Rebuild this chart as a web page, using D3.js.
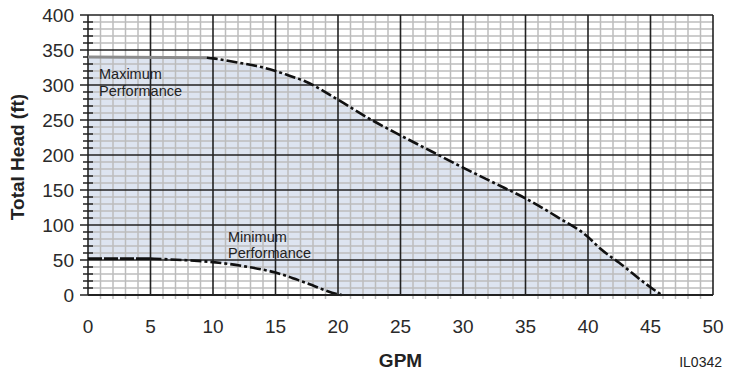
<!DOCTYPE html>
<html>
<head>
<meta charset="utf-8">
<script src="https://cdn.jsdelivr.net/npm/d3@7"></script>
<style>
  body { margin: 0; background: #fff; }
  svg { display: block; font-family: "Liberation Sans", Arial, sans-serif; }
</style>
</head>
<body>
<svg id="chart"></svg>
<script>
// pump curve values
const maxGpm  = [0, 9.5, 10, 12, 14, 15, 16, 17.4, 20, 22.5, 25, 27.5, 30, 32.5, 35, 37.5, 40, 41, 42.5, 45, 45.9];
const maxHead = [340, 339, 338, 332, 325, 320, 314, 305, 279, 252, 228, 205, 182, 160, 138, 112, 83, 66, 46, 11, 0];
const minGpm  = [0, 5, 7.5, 10, 12.5, 15, 17.5, 20, 20.3];
const minHead = [52, 52, 50, 47, 41, 32, 17, 1, 0];
const xTicks = [0, 5, 10, 15, 20, 25, 30, 35, 40, 45, 50];
const yTicks = [0, 50, 100, 150, 200, 250, 300, 350, 400];

const width = 735, height = 382;
const margin = { top: 15, right: 22, bottom: 87, left: 88 };

const svg = d3.select("#chart").attr("width", width).attr("height", height);

const x = d3.scaleLinear().domain([0, 50]).range([margin.left, width - margin.right]);
const y = d3.scaleLinear().domain([0, 400]).range([height - margin.bottom, margin.top]);

const maxPts = maxGpm.map((g, i) => [g, maxHead[i]]);
const minPts = minGpm.map((g, i) => [g, minHead[i]]);

const line = d3.line().x(d => x(d[0])).y(d => y(d[1])).curve(d3.curveMonotoneX);

// shaded operating range
const area = d3.area()
  .x(d => x(d[0]))
  .y0(d => {
    // lower edge follows the minimum curve, then the zero line
    const i = minGpm.findIndex(g => g >= d[0]);
    if (i < 0) return y(0);
    if (i === 0) return y(minHead[0]);
    const t = (d[0] - minGpm[i - 1]) / (minGpm[i] - minGpm[i - 1]);
    return y(minHead[i - 1] + t * (minHead[i] - minHead[i - 1]));
  })
  .y1(d => y(d[1]))
  .curve(d3.curveMonotoneX);
svg.append("path")
  .attr("d", area(maxPts.concat(minGpm.map(g => [g, null])).filter(d => d[1] !== null)))
  .attr("fill", "#dde4f0");

// minor grid
const minorX = d3.range(0, 51, 1).filter(v => v % 5 !== 0);
const minorY = d3.range(0, 401, 10).filter(v => v % 50 !== 0);

svg.append("g")
  .selectAll("line")
  .data(minorX)
  .join("line")
  .attr("x1", d => x(d)).attr("x2", d => x(d))
  .attr("y1", y(400)).attr("y2", y(0) + 4)
  .attr("stroke", "#bcbcbc")
  .attr("stroke-width", 1.5);

svg.append("g")
  .selectAll("line")
  .data(minorY)
  .join("line")
  .attr("x1", x(0)).attr("x2", x(50))
  .attr("y1", d => y(d)).attr("y2", d => y(d))
  .attr("stroke", "#bcbcbc")
  .attr("stroke-width", 1.5);

// major grid
svg.append("g")
  .selectAll("line")
  .data(xTicks)
  .join("line")
  .attr("x1", d => x(d)).attr("x2", d => x(d))
  .attr("y1", y(400)).attr("y2", y(0))
  .attr("stroke", "#222")
  .attr("stroke-width", 1.6);

svg.append("g")
  .selectAll("line")
  .data(yTicks)
  .join("line")
  .attr("x1", x(0) - 8).attr("x2", x(50))
  .attr("y1", d => y(d)).attr("y2", d => y(d))
  .attr("stroke", "#222")
  .attr("stroke-width", 1.6);

// small ticks on the head axis
svg.append("g")
  .selectAll("line")
  .data(minorY)
  .join("line")
  .attr("x1", x(0) - 5).attr("x2", x(0) + 5)
  .attr("y1", d => y(d)).attr("y2", d => y(d))
  .attr("stroke", "#222")
  .attr("stroke-width", 1.5);

// maximum curve: grey flat start, then dashed
const maxSplit = 2;
svg.append("path")
  .attr("d", line(maxPts.slice(0, maxSplit)))
  .attr("fill", "none")
  .attr("stroke", "#8c8c8c")
  .attr("stroke-width", 3);

svg.append("path")
  .attr("d", line(maxPts.slice(maxSplit - 1)))
  .attr("fill", "none")
  .attr("stroke", "#111")
  .attr("stroke-width", 2.6)
  .attr("stroke-dasharray", "11,3,3,3");

// minimum curve
svg.append("path")
  .attr("d", line(minPts.slice(0, 2)))
  .attr("fill", "none")
  .attr("stroke", "#111")
  .attr("stroke-width", 2.8)
  .attr("stroke-dasharray", "14,2");

svg.append("path")
  .attr("d", line(minPts.slice(1)))
  .attr("fill", "none")
  .attr("stroke", "#111")
  .attr("stroke-width", 2.6)
  .attr("stroke-dasharray", "11,3,3,3");

// bottom edge of the range
svg.append("line")
  .attr("x1", x(0)).attr("x2", x(50))
  .attr("y1", y(0)).attr("y2", y(0))
  .attr("stroke", "#222")
  .attr("stroke-width", 2.2);

// tick labels
svg.append("g")
  .selectAll("text")
  .data(yTicks)
  .join("text")
  .attr("x", 74)
  .attr("y", d => y(d))
  .attr("dy", "0.35em")
  .attr("text-anchor", "end")
  .attr("font-size", 19)
  .attr("fill", "#2a2a2a")
  .text(d => d);

svg.append("g")
  .selectAll("text")
  .data(xTicks)
  .join("text")
  .attr("x", d => x(d))
  .attr("y", 333)
  .attr("text-anchor", "middle")
  .attr("font-size", 19)
  .attr("fill", "#2a2a2a")
  .text(d => d);

// axis titles
svg.append("text")
  .attr("transform", `translate(24,${(y(0) + y(400)) / 2 + 2}) rotate(-90)`)
  .attr("text-anchor", "middle")
  .attr("font-size", 19)
  .attr("font-weight", "bold")
  .attr("fill", "#222")
  .text("Total Head (ft)");

svg.append("text")
  .attr("x", (x(0) + x(50)) / 2)
  .attr("y", 367)
  .attr("text-anchor", "middle")
  .attr("font-size", 19)
  .attr("font-weight", "bold")
  .attr("fill", "#222")
  .text("GPM");

svg.append("text")
  .attr("x", 722)
  .attr("y", 367)
  .attr("text-anchor", "end")
  .attr("font-size", 14)
  .attr("fill", "#222")
  .text("IL0342");

// curve labels
const labels = [
  { t: "Maximum", x: 99, y: 79 },
  { t: "Performance", x: 99, y: 96 },
  { t: "Minimum", x: 228, y: 242 },
  { t: "Performance", x: 228, y: 258 }
];
svg.append("g")
  .selectAll("text")
  .data(labels)
  .join("text")
  .attr("x", d => d.x)
  .attr("y", d => d.y)
  .attr("font-size", 14.5)
  .attr("fill", "#222")
  .text(d => d.t);
</script>
</body>
</html>
